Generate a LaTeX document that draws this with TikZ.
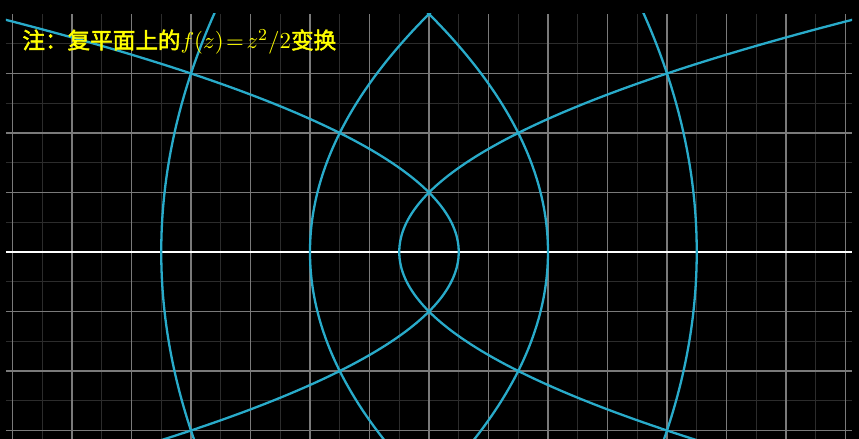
\documentclass[tikz,border=0pt]{standalone}
\usepackage{fontspec}
\newfontfamily\cjk{Noto Sans CJK SC}[AutoFakeBold=2]
\definecolor{gridmajor}{HTML}{7A7A7A}
\definecolor{gridminor}{HTML}{2C2C2C}
\definecolor{curvecol}{HTML}{29ABCA}
\definecolor{titlecol}{HTML}{FFFF00}

\begin{document}
\begin{tikzpicture}[
  x=1cm, y=1cm,
  title/.style={text=titlecol, font=\cjk\bfseries\fontsize{10.8pt}{13pt}\selectfont, inner sep=0pt, anchor=west},
  major/.style={draw=gridmajor, line width=0.5pt},
  minor/.style={draw=gridminor, line width=0.5pt},
  realaxis/.style={draw=white, line width=1.2pt},
  image/.style={draw=curvecol, line width=1.1pt, smooth, samples=120}
]
% background and frame
\fill[black] (-7.210,-3.143) rectangle (7.227,4.235);
\useasboundingbox (-7.210,-3.143) rectangle (7.227,4.235);
\begin{scope}
  \clip (-7.11,-3.3) rectangle (7.11,4.0);
  % grid
  \foreach \i in {-6.5,-5.5,...,6.5} \draw[minor] (\i,-3.3) -- (\i,4.0);
  \foreach \j in {-2.5,-1.5,...,3.5} \draw[minor] (-7.11,\j) -- (7.11,\j);
  \foreach \i in {-7,...,7} \draw[major] (\i,-3.3) -- (\i,4.0);
  \foreach \j in {-3,...,3} \draw[major] (-7.11,\j) -- (7.11,\j);
  \draw[realaxis] (-7.11,0) -- (7.11,0);
  % images of the lines x=a and y=b
  \foreach \a in {1,2,3}
    \draw[image] plot[domain=-4.3:4.3] ({\a*\a/2-\x*\x/(2*\a*\a)},\x);
  \foreach \b in {1,2,3}
    \draw[image] plot[domain=-4.3:4.3] ({\x*\x/(2*\b*\b)-\b*\b/2},\x);
\end{scope}
\node[title] (title) at (-6.84,3.53) {注：复平面上的\mdseries$f(z)\!=\!z^2/2$\bfseries 变换};
\end{tikzpicture}
\end{document}
